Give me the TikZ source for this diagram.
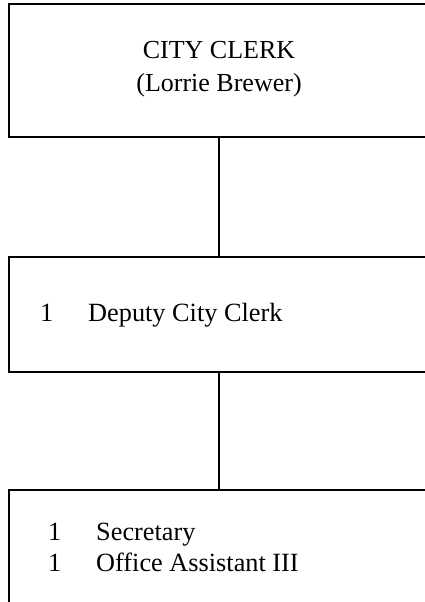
\documentclass[tikz,border=0pt]{standalone}
\usepackage{fontspec}
\setmainfont{Liberation Serif}
\begin{document}
\begin{tikzpicture}[x=1pt,y=-1pt,
  orgbox/.style={draw=black,line width=1.3pt},
  link/.style={draw=black,line width=1.3pt},
  itemtext/.style={inner sep=0pt,anchor=base west,font=\fontsize{26.3}{28}\selectfont},
  titletext/.style={inner sep=0pt,anchor=base,font=\fontsize{26}{28}\selectfont}]
\useasboundingbox (0,0) rectangle (425,602);
\clip (0,0) rectangle (425,602);
% boxes run past the right and bottom edges
\draw[orgbox] (9,4) rectangle (440,137);
\draw[orgbox] (9,257) rectangle (440,372);
\draw[orgbox] (9,490) rectangle (440,620);
% title box
\node[titletext] (t1) at (219,59) {CITY CLERK};
\node[titletext] (t2) at (219,91) {(Lorrie Brewer)};
% deputy box
\node[itemtext] (n1) at (40,321) {1};
\node[itemtext] (d1) at (88,321) {Deputy City Clerk};
% staff box
\node[itemtext] (n2) at (48,540) {1};
\node[itemtext] (s1) at (96,540) {Secretary};
\node[itemtext] (n3) at (48,571) {1};
\node[itemtext] (s2) at (96,571) {Office Assistant III};
% connectors
\coordinate (c1) at (219,137);
\coordinate (c2) at (219,257);
\coordinate (c3) at (219,372);
\coordinate (c4) at (219,490);
\draw[link] (c1) -- (c2);
\draw[link] (c3) -- (c4);
\end{tikzpicture}
\end{document}
